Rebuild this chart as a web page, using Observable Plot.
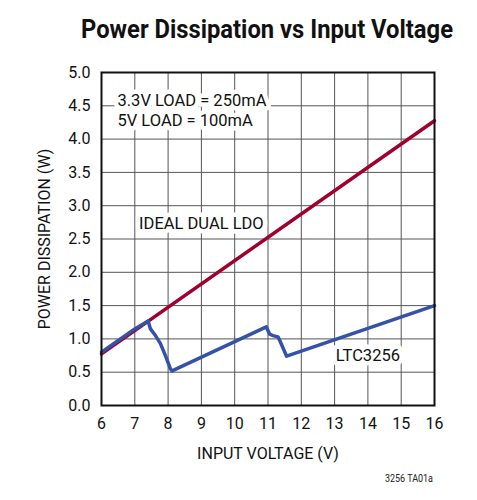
<!DOCTYPE html>
<html>
<head>
<meta charset="utf-8">
<script src="https://cdn.jsdelivr.net/npm/d3@7"></script>
<script src="https://cdn.jsdelivr.net/npm/@observablehq/plot@0.6"></script>
<style>
  body { margin: 0; background: #fff; width: 477px; font-family: Roboto, sans-serif; }
  #title { position: relative; height: 58px; width: 477px; }
  #title span { position: absolute; top: 14px; left: 0; font-size: 26px; font-weight: bold; color: #111; white-space: nowrap; transform-origin: 0 0; line-height: 30px; }
  #caption { position: relative; height: 20px; width: 477px; }
  #caption span { position: absolute; top: 3px; left: 0; font-size: 10px; color: #222; white-space: nowrap; transform-origin: 0 0; }
</style>
</head>
<body>
<div id="title"><span>Power Dissipation vs Input Voltage</span></div>
<div id="chart"></div>
<div id="caption"><span>3256 TA01a</span></div>
<script>
// Ideal dual LDO
const idealVin = [6, 16];
const idealP = [0.775, 4.275];
// LTC3256
const ltcVin = [6, 7.0, 7.40, 7.47, 7.62, 7.77, 7.92, 8.07, 8.12, 10.95, 11.05, 11.15, 11.3, 11.35, 11.56, 16];
const ltcP   = [0.80, 1.15, 1.27, 1.15, 1.05, 0.93, 0.75, 0.55, 0.52, 1.18, 1.07, 1.05, 1.03, 0.98, 0.74, 1.50];
// tick labels
const xTicks = [6, 7, 8, 9, 10, 11, 12, 13, 14, 15, 16];
const yTicks = [0, 0.5, 1, 1.5, 2, 2.5, 3, 3.5, 4, 4.5, 5];
// annotations
const noteText = ["3.3V LOAD = 250mA", "5V LOAD = 100mA", "IDEAL DUAL LDO", "LTC3256"];
const noteX = [6.48, 6.48, 9.0, 14.0];
const noteY = [4.58, 4.28, 2.73, 0.74];
const noteAnchor = ["start", "start", "middle", "middle"];

const ideal = idealVin.map((v, i) => ({v, p: idealP[i]}));
const ltc = ltcVin.map((v, i) => ({v, p: ltcP[i]}));
const notes = noteText.map((t, i) => ({t, x: noteX[i], y: noteY[i], a: noteAnchor[i]}));

const chart = Plot.plot({
  width: 477,
  height: 412,
  marginTop: 14,
  marginBottom: 65,
  marginLeft: 101,
  marginRight: 43,
  style: {fontFamily: "Roboto, sans-serif", fontSize: "16px", color: "#111", background: "#fff"},
  x: {domain: [6, 16]},
  y: {domain: [0, 5]},
  marks: [
    Plot.gridX(xTicks, {stroke: "#555", strokeOpacity: 1, strokeWidth: 1}),
    Plot.gridY(yTicks, {stroke: "#555", strokeOpacity: 1, strokeWidth: 1}),
    Plot.text(notes.filter(d => d.a === "start"), {x: "x", y: "y", text: "t", textAnchor: "start", fontSize: 16.5, fill: "#111", stroke: "white", strokeWidth: 9, paintOrder: "stroke"}),
    Plot.text(notes.filter(d => d.a === "middle"), {x: "x", y: "y", text: "t", textAnchor: "middle", fontSize: 16.5, fill: "#111", stroke: "white", strokeWidth: 9, paintOrder: "stroke"}),
    Plot.line(ideal, {x: "v", y: "p", stroke: "#a0002e", strokeWidth: 3.5}),
    Plot.line(ltc, {x: "v", y: "p", stroke: "#3352a8", strokeWidth: 3.5, strokeLinejoin: "round"}),
    Plot.frame({stroke: "#111", strokeWidth: 2}),
    Plot.axisX(xTicks, {tickSize: 0, tickPadding: 12, fontSize: 16, label: "INPUT VOLTAGE (V)", labelAnchor: "center", labelArrow: "none", labelOffset: 53}),
    Plot.axisY(yTicks, {tickSize: 0, tickPadding: 11, fontSize: 16, tickFormat: d3.format(".1f"), label: "POWER DISSIPATION (W)", labelAnchor: "center", labelArrow: "none", labelOffset: 63})
  ]
});
document.getElementById("chart").appendChild(chart);

// fit title and caption widths to the reference layout (condensed look)
function fit(span, left, right) {
  const w = span.getBoundingClientRect().width;
  const s = (right - left) / w;
  span.style.left = left + "px";
  span.style.transform = `scaleX(${s})`;
}
fit(document.querySelector("#title span"), 81, 453);
fit(document.querySelector("#caption span"), 385, 433);
</script>
</body>
</html>
